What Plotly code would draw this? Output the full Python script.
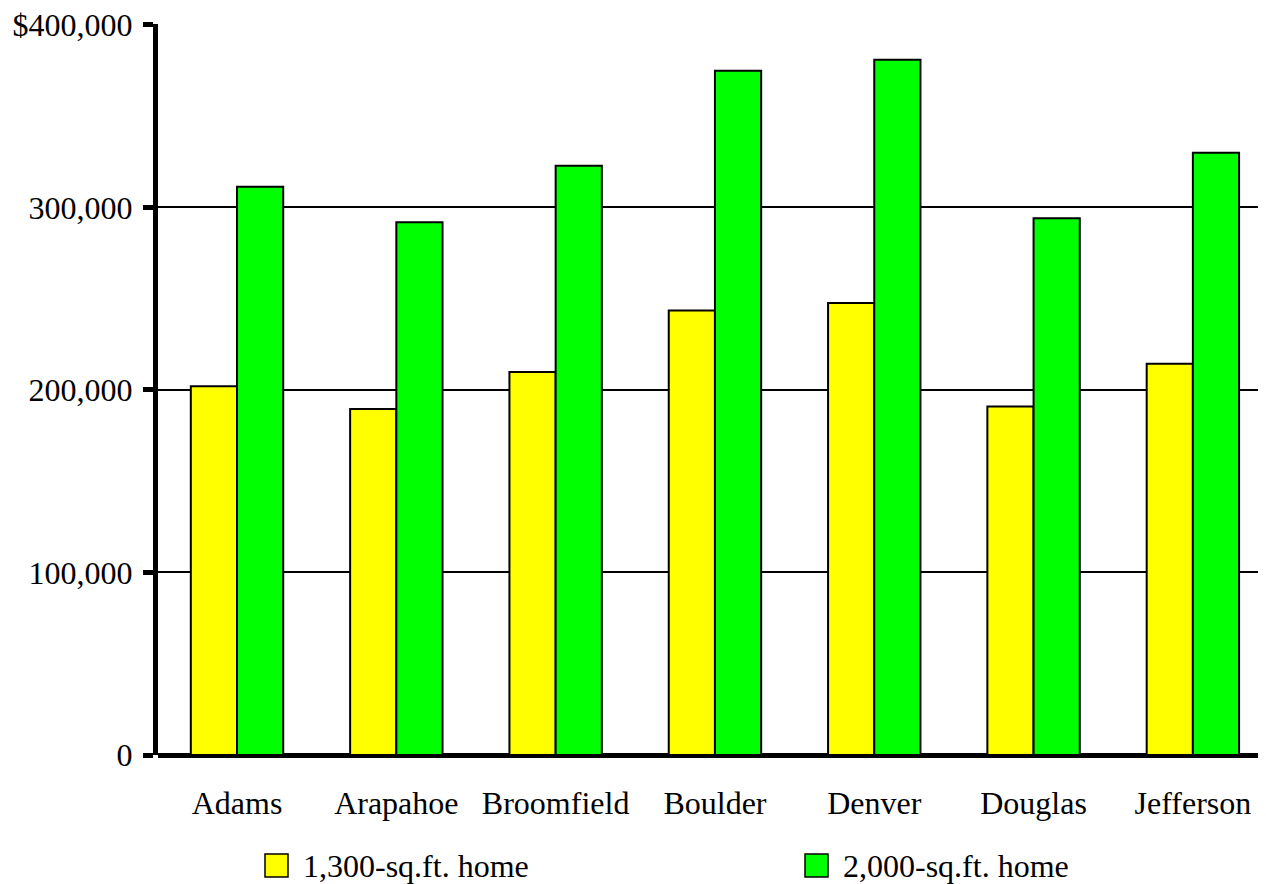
import plotly.graph_objects as go

counties = ["Adams", "Arapahoe", "Broomfield", "Boulder", "Denver", "Douglas", "Jefferson"]
home_1300 = [202000, 189500, 209800, 243600, 247600, 191000, 214400]
home_2000 = [311400, 291900, 322800, 374900, 380900, 294100, 330000]
series_names = ["1,300-sq.ft. home", "2,000-sq.ft. home"]
y_tickvals = [0, 100000, 200000, 300000, 400000]
y_ticktext = ["0", "100,000", "200,000", "300,000", "$400,000"]

FONT = "Liberation Serif"
OFF = 8  # page body margin
W, H = 1266 - OFF, 884 - OFF
L, R, T, B = 158 - OFF, 0, 24 - OFF, 129
pw, ph = W - L - R, H - T - B

fig = go.Figure()
fig.add_trace(go.Bar(x=counties, y=home_1300, name=series_names[0],
                     marker=dict(color="#FFFF00", line=dict(color="black", width=2)),
                     showlegend=False))
fig.add_trace(go.Bar(x=counties, y=home_2000, name=series_names[1],
                     marker=dict(color="#00FF00", line=dict(color="black", width=2)),
                     showlegend=False))

# legend drawn manually (square swatches + text); positions given in page pixels
def px_x(p):
    return (p - OFF - L) / pw

def px_y(p):
    return (H - B - (p - OFF)) / ph

legend_items = [(265, "#FFFF00", series_names[0]), (805, "#00FF00", series_names[1])]
for x0, col, name in legend_items:
    fig.add_shape(type="rect", xref="paper", yref="paper",
                  x0=px_x(x0), x1=px_x(x0 + 23), y0=px_y(877), y1=px_y(854),
                  fillcolor=col, line=dict(color="black", width=1.5))
    fig.add_annotation(xref="paper", yref="paper", x=px_x(x0 + 36), y=px_y(865.5),
                       text=name, showarrow=False, xanchor="left", yanchor="middle",
                       font=dict(family=FONT, size=32, color="black"))

fig.update_layout(
    width=W, height=H,
    margin=dict(l=L, r=R, t=T, b=B, pad=0, autoexpand=False),
    paper_bgcolor="white", plot_bgcolor="white",
    barmode="group", bargap=0.42, bargroupgap=0,
    font=dict(family=FONT, size=32, color="black"),
    showlegend=False,
)
fig.update_xaxes(type="category", range=[-0.496, 6.459], showgrid=False,
                 showline=False, ticks="", ticklabelstandoff=26, automargin=False,
                 tickfont=dict(family=FONT, size=32, color="black"))
fig.update_yaxes(range=[0, 400500], tickvals=y_tickvals, ticktext=y_ticktext,
                 showgrid=True, gridcolor="black", gridwidth=1.5,
                 zeroline=True, zerolinecolor="black", zerolinewidth=5,
                 showline=True, linecolor="black", linewidth=5,
                 ticks="outside", ticklen=10, tickwidth=5, tickcolor="black",
                 ticklabelstandoff=4, ticklabeloverflow="allow", automargin=False,
                 tickfont=dict(family=FONT, size=32, color="black"))

fig.write_html("out.html")
